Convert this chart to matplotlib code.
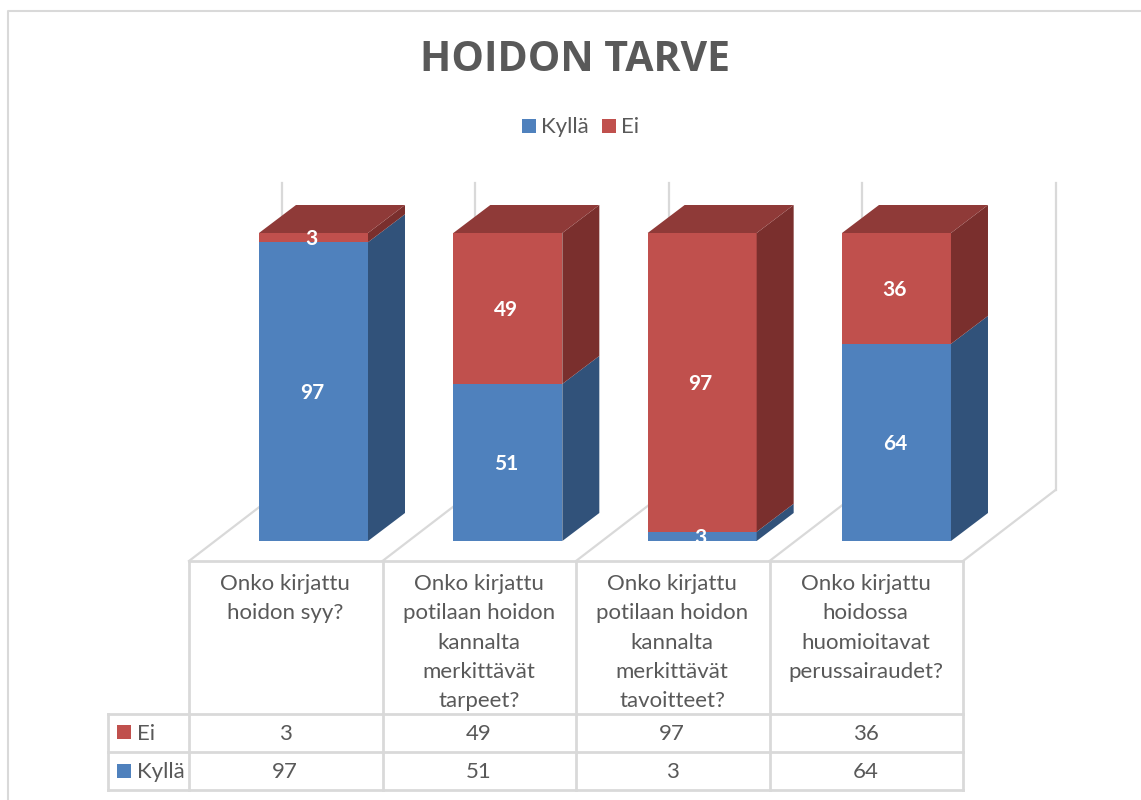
import matplotlib
matplotlib.use('Agg')
import matplotlib.pyplot as plt
from matplotlib.patches import Polygon, Rectangle

categories = [
    'Onko kirjattu\nhoidon syy?',
    'Onko kirjattu\npotilaan hoidon\nkannalta\nmerkittävät\ntarpeet?',
    'Onko kirjattu\npotilaan hoidon\nkannalta\nmerkittävät\ntavoitteet?',
    'Onko kirjattu\nhoidossa\nhuomioitavat\nperussairaudet?',
]
kylla = [97, 51, 3, 64]
ei = [3, 49, 97, 36]

BLUE, BLUE_SIDE = '#4F81BD', '#31527A'
RED, RED_SIDE, RED_TOP = '#C0504D', '#7A2F2D', '#8F3A38'
GRID = '#D9D9D9'
TEXT = '#595959'

W, H = 1141, 800
plt.rcParams['font.family'] = ['Lato', 'DejaVu Sans']
fig = plt.figure(figsize=(W / 100, H / 100), dpi=100)

# whole figure in pixel coords, for frame, walls and table
bg = fig.add_axes([0, 0, 1, 1])
bg.set_xlim(0, W)
bg.set_ylim(H, 0)
bg.axis('off')


def line(xs, ys, lw=1.6):
    bg.plot(xs, ys, color=GRID, lw=lw, solid_capstyle='projecting', zorder=1)


# frame, only left and top show in the crop
line([8, 8, 1141], [800, 11, 11], lw=1.5)

# walls and floor
col_x = [189, 382.5, 576, 769.5, 963]
for x in col_x:
    line([x, x + 92.5], [561, 490])
    line([x + 92.5, x + 92.5], [490, 183])

# table
for y in [714, 752, 790]:
    line([108, 963], [y, y], lw=2)
line([189, 963], [561, 561], lw=2)
line([108, 108], [714, 790], lw=2)
for x in col_x:
    line([x, x], [561, 790], lw=2)

for i, cat in enumerate(categories):
    cx = (col_x[i] + col_x[i + 1]) / 2 - 0.5
    bg.text(cx, 574, cat, ha='center', va='top', fontsize=16, color=TEXT, linespacing=1.58, zorder=3)
    bg.text(cx, 734, str(ei[i]), ha='center', va='center', fontsize=16, color=TEXT, zorder=3)
    bg.text(cx, 772, str(kylla[i]), ha='center', va='center', fontsize=16, color=TEXT, zorder=3)

bg.add_patch(Rectangle((117, 725), 14, 14, color=RED, lw=0, zorder=3))
bg.add_patch(Rectangle((117, 764), 14, 14, color=BLUE, lw=0, zorder=3))
bg.text(137, 733.5, 'Ei', va='center', fontsize=16, color=TEXT, zorder=3)
bg.text(137, 772, 'Kyllä', va='center', fontsize=16, color=TEXT, zorder=3)

# title and legend
bg.text(575, 60.5, 'HOIDON TARVE', ha='center', va='center', fontsize=29.5, fontweight='bold',
        family=['Open Sans', 'DejaVu Sans'], color=TEXT, zorder=3)
bg.add_patch(Rectangle((522, 119), 14, 14, color=BLUE, lw=0, zorder=3))
bg.add_patch(Rectangle((602, 119), 14, 14, color=RED, lw=0, zorder=3))
bg.text(541, 127, 'Kyllä', va='center', fontsize=16, color=TEXT, zorder=3)
bg.text(621, 127, 'Ei', va='center', fontsize=16, color=TEXT, zorder=3)

# bars: x is category number, y is percent
step_px = 194.33
ax = fig.add_axes([189 / W, 1 - 541 / H, 4 * step_px / W, (541 - 233) / H])
ax.patch.set_alpha(0)
ax.axis('off')
ax.set_xlim(0, 4)
ax.set_ylim(0, 100)

bar_left = 70 / step_px
bar_w = 109 / step_px
dx = 37 / step_px
dy = 28 / 3.08


def segment(i, bottom, value, face, side):
    x0 = i + bar_left
    x1 = x0 + bar_w
    top = bottom + value
    ax.add_patch(Rectangle((x0, bottom), bar_w, value, facecolor=face, edgecolor='none', clip_on=False, zorder=3))
    ax.add_patch(Polygon([(x1, bottom), (x1 + dx, bottom + dy), (x1 + dx, top + dy), (x1, top)],
                         facecolor=side, edgecolor='none', clip_on=False, zorder=3))
    ax.annotate(str(value), (x0 + bar_w / 2, bottom + value / 2), xytext=(-1.2, -1), textcoords='offset points',
                ha='center', va='center', fontsize=15, fontweight='bold', color='white', zorder=5,
                annotation_clip=False)


for i in range(len(categories)):
    segment(i, 0, kylla[i], BLUE, BLUE_SIDE)
    segment(i, kylla[i], ei[i], RED, RED_SIDE)
    x0 = i + bar_left
    x1 = x0 + bar_w
    total = kylla[i] + ei[i]
    ax.add_patch(Polygon([(x0, total), (x0 + dx, total + dy), (x1 + dx, total + dy), (x1, total)],
                         facecolor=RED_TOP, edgecolor='none', clip_on=False, zorder=3))

fig.savefig('out.png', dpi=100, facecolor='white')
